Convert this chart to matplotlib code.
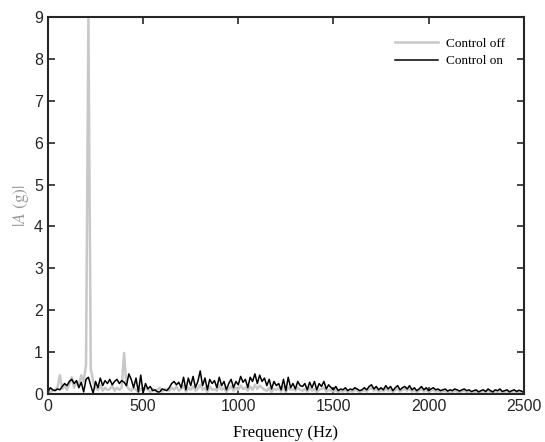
import numpy as np
import matplotlib.pyplot as plt

plt.rcParams['mathtext.fontset'] = 'stix'

# frequency step of 12.5 Hz, 0 .. 2500 Hz
freq = np.arange(201) * 12.5

control_off = [
    0.02, 0.05, 0.08, 0.10, 0.15, 0.45, 0.12, 0.20, 0.10, 0.25,
    0.40, 0.15, 0.30, 0.20, 0.45, 0.30, 0.70, 8.95, 0.60, 0.30,
    0.15, 0.10, 0.20, 0.08, 0.15, 0.10, 0.12, 0.20, 0.08, 0.15,
    0.10, 0.15, 0.98, 0.20, 0.12, 0.08, 0.15, 0.10, 0.05, 0.12,
    0.08, 0.15, 0.10, 0.05, 0.12, 0.08, 0.10, 0.15, 0.06, 0.10,
    0.12, 0.08, 0.15, 0.10, 0.18, 0.08, 0.12, 0.20, 0.06, 0.15,
    0.10, 0.18, 0.08, 0.12, 0.22, 0.10, 0.15, 0.05, 0.18, 0.10,
    0.12, 0.08, 0.20, 0.10, 0.15, 0.05, 0.12, 0.18, 0.08, 0.15,
    0.10, 0.20, 0.12, 0.15, 0.08, 0.18, 0.10, 0.22, 0.12, 0.20,
    0.15, 0.10, 0.08, 0.15, 0.05, 0.12, 0.10, 0.15, 0.06, 0.18,
    0.05, 0.15, 0.10, 0.12, 0.08, 0.15, 0.10, 0.08, 0.12, 0.06,
    0.15, 0.08, 0.12, 0.05, 0.10, 0.12, 0.15, 0.06, 0.10, 0.08,
    0.06, 0.10, 0.05, 0.08, 0.06, 0.10, 0.05, 0.08, 0.06, 0.10,
    0.08, 0.05, 0.07, 0.10, 0.06, 0.12, 0.15, 0.08, 0.12, 0.06,
    0.10, 0.07, 0.12, 0.08, 0.10, 0.05, 0.10, 0.12, 0.06, 0.10,
    0.12, 0.08, 0.13, 0.06, 0.10, 0.05, 0.08, 0.12, 0.06, 0.10,
    0.05, 0.08, 0.10, 0.06, 0.08, 0.05, 0.07, 0.08, 0.04, 0.07,
    0.05, 0.08, 0.06, 0.04, 0.07, 0.08, 0.05, 0.07, 0.04, 0.05,
    0.07, 0.03, 0.05, 0.07, 0.04, 0.08, 0.05, 0.03, 0.07, 0.05,
    0.08, 0.04, 0.05, 0.07, 0.03, 0.05, 0.07, 0.04, 0.06, 0.05,
    0.03,
]

control_on = [
    0.05, 0.15, 0.10, 0.08, 0.12, 0.10, 0.18, 0.25, 0.20, 0.30,
    0.35, 0.25, 0.32, 0.15, 0.28, 0.05, 0.35, 0.40, 0.20, 0.02,
    0.30, 0.15, 0.38, 0.20, 0.32, 0.25, 0.35, 0.22, 0.30, 0.35,
    0.25, 0.32, 0.28, 0.20, 0.48, 0.35, 0.15, 0.38, 0.05, 0.45,
    0.02, 0.25, 0.12, 0.18, 0.08, 0.10, 0.05, 0.05, 0.12, 0.10,
    0.08, 0.15, 0.25, 0.30, 0.22, 0.28, 0.15, 0.40, 0.10, 0.38,
    0.20, 0.42, 0.15, 0.30, 0.55, 0.20, 0.38, 0.10, 0.35, 0.25,
    0.32, 0.15, 0.40, 0.20, 0.30, 0.10, 0.25, 0.35, 0.15, 0.30,
    0.22, 0.42, 0.28, 0.35, 0.15, 0.40, 0.30, 0.48, 0.25, 0.45,
    0.30, 0.38, 0.20, 0.35, 0.12, 0.30, 0.20, 0.25, 0.10, 0.35,
    0.08, 0.40, 0.15, 0.25, 0.12, 0.30, 0.20, 0.18, 0.25, 0.10,
    0.28, 0.15, 0.30, 0.10, 0.25, 0.18, 0.30, 0.12, 0.22, 0.15,
    0.10, 0.18, 0.08, 0.12, 0.10, 0.15, 0.08, 0.12, 0.10, 0.15,
    0.12, 0.08, 0.10, 0.15, 0.10, 0.18, 0.22, 0.12, 0.18, 0.10,
    0.15, 0.10, 0.20, 0.12, 0.18, 0.08, 0.15, 0.20, 0.10, 0.15,
    0.18, 0.12, 0.20, 0.10, 0.15, 0.08, 0.12, 0.18, 0.10, 0.15,
    0.08, 0.12, 0.15, 0.10, 0.12, 0.08, 0.10, 0.12, 0.07, 0.10,
    0.08, 0.12, 0.10, 0.07, 0.10, 0.12, 0.08, 0.10, 0.06, 0.08,
    0.10, 0.05, 0.08, 0.10, 0.06, 0.12, 0.08, 0.05, 0.10, 0.08,
    0.12, 0.06, 0.08, 0.10, 0.05, 0.08, 0.10, 0.06, 0.09, 0.07,
    0.04,
]

fig = plt.figure(figsize=(5.45, 4.42), dpi=100)
ax = fig.add_axes([0.088, 0.1086, 0.873, 0.853])

ax.plot(freq, control_off, color='#c8c8c8', lw=1.8, label='Control off')
ax.plot(freq, control_on, color='black', lw=1.1, label='Control on')

ax.set_xlim(0, 2500)
ax.set_ylim(0, 9)
ax.set_xticks([0, 500, 1000, 1500, 2000, 2500])
ax.set_yticks(range(10))

ax.tick_params(direction='in', length=5, width=1.2, top=True, right=True,
               labelsize=11.5, colors='#262626')
for lbl in ax.get_xticklabels() + ax.get_yticklabels():
    lbl.set_fontfamily('Liberation Sans')
for s in ax.spines.values():
    s.set_linewidth(1.5)
    s.set_color('#262626')

ax.set_xlabel('Frequency (Hz)', family='Liberation Serif', fontsize=12, labelpad=8)
ax.set_ylabel(r'$|A\ \mathrm{(g)}|$', fontsize=12.5, color='#999999', labelpad=2)

leg = ax.legend(loc='upper right', frameon=False, handlelength=3.2,
                handletextpad=0.6, bbox_to_anchor=(0.985, 0.977),
                prop={'family': 'Liberation Serif', 'size': 9.5},
                labelspacing=0.4)

fig.savefig('out.png', dpi=100)
